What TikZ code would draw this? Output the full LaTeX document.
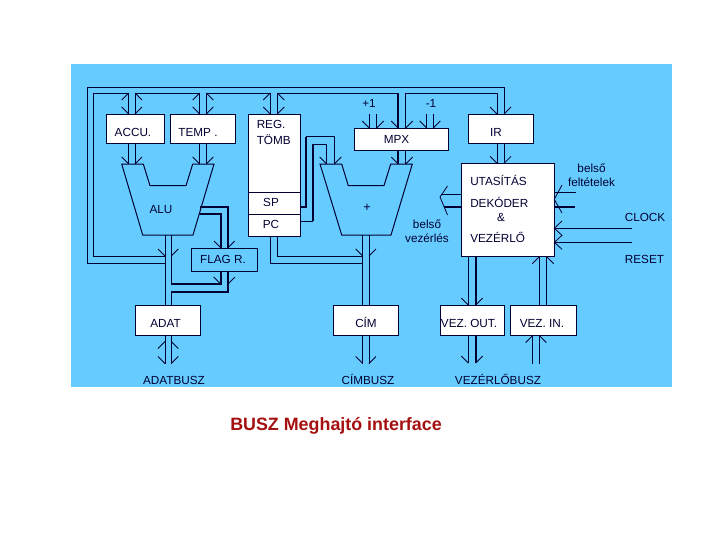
\documentclass[tikz,border=0pt]{standalone}
\usepackage{fontspec}
\setmainfont{Liberation Sans}
\definecolor{bg}{HTML}{66CCFF}
\definecolor{wirec}{HTML}{000033}
\definecolor{titlec}{HTML}{A50F0F}
\tikzset{
  wire/.style={draw=wirec,line width=0.75pt},
  thick wire/.style={draw=wirec,line width=1.5pt},
  barb/.style={draw=wirec,line width=0.6pt},
  boxs/.style={draw=wirec,fill=white,line width=0.75pt,inner sep=0pt,outer sep=0pt},
  lbl/.style={inner sep=0pt,font=\fontsize{8.8pt}{10.5pt}\selectfont,text=wirec,align=center},
  title/.style={inner sep=0pt,font=\fontsize{13.4pt}{15pt}\selectfont\bfseries,text=titlec}
}
\newcommand{\bb}[4]{\draw[barb] (#1,#2) -- ++(#3*7,#4*7);}
\newcommand{\dnpair}[3]{\bb{#1}{#3}{-1}{-1}\bb{#2}{#3}{1}{-1}}
\newcommand{\uppair}[3]{\bb{#1}{#3}{-1}{1}\bb{#2}{#3}{1}{1}}
% \boxat[opts]{name}{x1}{y1}{x2}{y2}
\newcommand{\boxat}[6][]{\path ({(#3+#5)/2},{(#4+#6)/2}) node[boxs,#1,minimum width={(#5-#3)*0.75pt},minimum height={(#6-#4)*0.75pt}] (#2) {};}
\begin{document}
\begin{tikzpicture}[x=0.75pt,y=-0.75pt]
\useasboundingbox (0,0) rectangle (720,540);
\fill[bg] (71,64) rectangle (672,387);
% boxes
\boxat{accu}{106}{114}{164}{143}
\boxat{temp}{170.3}{114}{235.5}{143}
\boxat{reg}{248.5}{114}{300}{236}
\boxat{mpx}{354.3}{128.3}{448.3}{150.7}
\boxat{ir}{468.3}{114}{533.3}{143.3}
\boxat{dec}{461.7}{163.3}{554.3}{256.7}
\boxat[fill=bg]{flag}{191.7}{248.3}{257.3}{271}
\boxat{adat}{135}{305}{200.5}{335.5}
\boxat{cim}{333.3}{305}{398.7}{335.5}
\boxat{vout}{440}{305}{504.3}{335.5}
\boxat{vin}{510.3}{305}{576}{335.5}
\draw[wirec,line width=0.6pt] (reg.west |- 0,192) -- (reg.east |- 0,192) (reg.west |- 0,214) -- (reg.east |- 0,214);
% ALU and + trapezoids
\draw[wire] (121.7,164) -- (143.3,164) -- (150,185.7) -- (186,185.7) -- (192.7,164) -- (214,164) -- (193,235) -- (142.7,235) -- cycle;
\draw[wire] (320,164) -- (341.7,164) -- (348.3,185.7) -- (384,185.7) -- (390.7,164) -- (412.3,164) -- (391,235) -- (341.7,235) -- cycle;
% outer buses
\draw[wire] (165,263) -- (87,263) -- (87,87) -- (504,87) -- (504,0 |- ir.north);
\draw[wire] (165,256) -- (93,256) -- (93,93) -- (128.7,93);
\draw[wire] (135,93) -- (199.7,93) (206.3,93) -- (270.3,93) (277.3,93) -- (398.3,93);
\draw[thick wire] (398.3,93) -- (398.3,0 |- mpx.north);
\draw[wire] (405.7,0 |- mpx.north) -- (405.7,93) -- (497,93) -- (497,0 |- ir.north);
\draw[wire] (362.7,263) -- (270.3,263) -- (270.3,0 |- reg.south);
\draw[wire] (362.7,256) -- (277.3,256) -- (277.3,0 |- reg.south);
% top stubs
\draw[wire] (128.7,93) -- (128.7,0 |- accu.north) (135,93) -- (135,0 |- accu.north);
\draw[wire] (199.7,93) -- (199.7,0 |- temp.north) (206.3,93) -- (206.3,0 |- temp.north);
\draw[wire] (270.3,93) -- (270.3,0 |- reg.north) (277.3,93) -- (277.3,0 |- reg.north);
\foreach \a/\b in {128.7/135,199.7/206.3,270.3/277.3}{
  \uppair{\a}{\b}{93}
  \dnpair{\a}{\b}{114}
}
% ACCU, TEMP to ALU
\draw[wire] (128.7,0 |- accu.south) -- (128.7,164) (135,0 |- accu.south) -- (135,164);
\draw[wire] (199.7,0 |- temp.south) -- (199.7,164) (206.3,0 |- temp.south) -- (206.3,164);
\dnpair{128.7}{135}{164}
\dnpair{199.7}{206.3}{164}
% ALU outputs
\draw[wire] (165,235) -- (165,0 |- adat.north);
\draw[wire] (171.3,235) -- (171.3,284.3);
\draw[thick wire] (171.3,284.3) -- (220.7,284.3) -- (220.7,0 |- flag.south);
\draw[wire] (171.3,0 |- adat.north) -- (171.3,291.7);
\draw[thick wire] (171.3,291.7) -- (228,291.7) -- (228,0 |- flag.south);
\bb{165}{256}{-1}{-1}
\bb{171.3}{256}{1}{-1}
\bb{220.7}{284}{-1}{-1}
\bb{228}{284}{1}{-1}
% ALU to FLAG
\draw[thick wire] (200,206.7) -- (227.7,206.7) -- (227.7,0 |- flag.north);
\draw[thick wire] (199.3,214) -- (221,214) -- (221,0 |- flag.north);
\dnpair{221}{227.7}{248}
% SP, PC to +
\draw[thick wire] (reg.east |- 0,206.7) -- (306,206.7) -- (306,136.7);
\draw[wire] (306,136.7) -- (334.3,136.7) -- (334.3,164);
\draw[wire] (reg.east |- 0,221) -- (312.7,221);
\draw[thick wire] (312.7,221) -- (312.7,144);
\draw[wire] (312.7,144) -- (326.7,144) -- (326.7,164);
\dnpair{326.7}{334.3}{164}
% MPX
\draw[wire] (369.3,114) -- (369.3,0 |- mpx.north) (376.7,114) -- (376.7,0 |- mpx.north);
\draw[wire] (426.7,114) -- (426.7,0 |- mpx.north) (433.3,114) -- (433.3,0 |- mpx.north);
\dnpair{369.3}{376.7}{128}
\dnpair{398.3}{405.7}{128}
\dnpair{426.7}{433.3}{128}
\draw[thick wire] (398.3,0 |- mpx.south) -- (398.3,164);
\draw[wire] (405.7,0 |- mpx.south) -- (405.7,164);
\dnpair{398.3}{405.7}{164}
% + outputs
\draw[wire] (362.7,235) -- (362.7,0 |- cim.north) (369,235) -- (369,0 |- cim.north);
\bb{362.7}{256}{-1}{-1}
\bb{369}{256}{1}{-1}
\draw[wire] (362.7,0 |- cim.south) -- (362.7,363.5) (369,0 |- cim.south) -- (369,363.5);
\dnpair{362.7}{369}{363.5}
% IR
\dnpair{497}{504}{114}
\draw[wire] (497,0 |- ir.south) -- (497,0 |- dec.north) (504,0 |- ir.south) -- (504,0 |- dec.north);
\dnpair{497}{504}{163.3}
% decoder left
\draw[wire] (dec.west |- 0,194) -- (441,194);
\draw[thick wire] (dec.west |- 0,206.7) -- (444,206.7);
\draw[barb] (447.5,186) -- (440,197) -- (447.5,215);
% decoder right
\draw[wire] (dec.east |- 0,192.3) -- (576,192.3);
\draw[thick wire] (dec.east |- 0,206.7) -- (575,206.7);
\draw[barb] (562,185) -- (554.3,199.3) -- (562,213);
\coordinate (clk) at (631.7,228.3);
\coordinate (rst) at (631.7,242.3);
\draw[wire] (dec.east |- clk) -- (clk);
\draw[wire] (dec.east |- rst) -- (rst);
\draw[barb] (562,221) -- (554.3,228.3) -- (562,235.3) -- (554.3,242.3) -- (562,249.3);
% decoder bottom
\draw[wire] (468.3,0 |- dec.south) -- (468.3,0 |- vout.north);
\draw[thick wire] (475.7,0 |- dec.south) -- (475.7,0 |- vout.north);
\dnpair{468.3}{475.7}{305}
\draw[wire] (539.3,0 |- dec.south) -- (539.3,0 |- vin.north) (546.7,0 |- dec.south) -- (546.7,0 |- vin.north);
\uppair{539.3}{546.7}{256.7}
% VEZ OUT below
\draw[wire] (468.3,0 |- vout.south) -- (468.3,363);
\draw[thick wire] (475.7,0 |- vout.south) -- (475.7,363);
\dnpair{468.3}{475.7}{363}
% VEZ IN below
\draw[wire] (532.7,0 |- vin.south) -- (532.7,363.5) (539.3,0 |- vin.south) -- (539.3,363.5);
\uppair{532.7}{539.3}{335.5}
% ADAT below
\draw[wire] (165,0 |- adat.south) -- (165,363.5) (171.3,0 |- adat.south) -- (171.3,363.5);
\uppair{165}{171.3}{341.5}
\dnpair{165}{171.3}{363.5}
% labels
\node[lbl] (t1) at (133,132) {ACCU.};
\node[lbl] (t2) at (198,132) {TEMP .};
\node[lbl,align=left,anchor=west] (t3) at (256.5,132) {REG.\\[1.5pt]TÖMB};
\node[lbl] (t4) at (271,202.5) {SP};
\node[lbl] (t5) at (271,224.5) {PC};
\node[lbl] (t6) at (161,210) {ALU};
\node[lbl,font=\fontsize{9.5pt}{10.5pt}\selectfont] (t7) at (367,208) {+};
\node[lbl] (t8) at (369,103) {+1};
\node[lbl] (t9) at (431,103) {-1};
\node[lbl] (t10) at (396.5,139.5) {MPX};
\node[lbl] (t11) at (496,132) {IR};
\node[lbl,anchor=west] (t12) at (470,180) {UTASÍTÁS};
\node[lbl,anchor=west] (t13) at (470,202.5) {DEKÓDER};
\node[lbl] (t14) at (501,217) {\&};
\node[lbl,anchor=west] (t15) at (470,237) {VEZÉRLŐ};
\node[lbl] (t16) at (427,231) {belső\\vezérlés};
\node[lbl] (t17) at (591.5,175) {belső\\feltételek};
\node[lbl] (t18) at (645,217) {CLOCK};
\node[lbl] (t19) at (644.5,259.5) {RESET};
\node[lbl] (t20) at (223,259.5) {FLAG R.};
\node[lbl] (t21) at (165.5,323.5) {ADAT};
\node[lbl] (t22) at (366,322.5) {CÍM};
\node[lbl] (t23) at (469,323) {VEZ. OUT.};
\node[lbl] (t24) at (542,323) {VEZ. IN.};
\node[lbl] (t25) at (174,380) {ADATBUSZ};
\node[lbl] (t26) at (368,379) {CÍMBUSZ};
\node[lbl] (t27) at (498,379) {VEZÉRLŐBUSZ};
\node[title] (t28) at (336,425.5) {BUSZ Meghajtó interface};
\end{tikzpicture}
\end{document}
